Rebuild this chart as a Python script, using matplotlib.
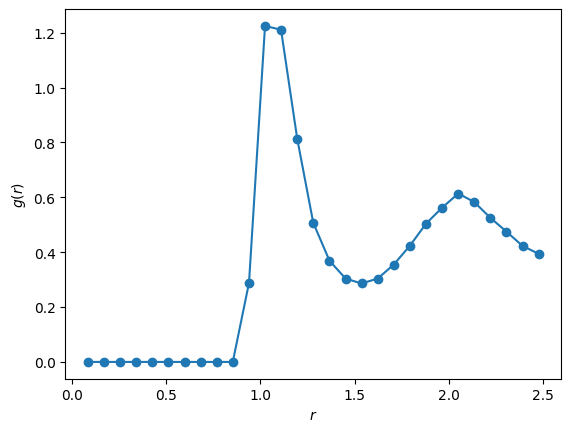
import matplotlib
matplotlib.use("Agg")
from matplotlib import pyplot as plt

# radial distribution function
r = [0.085, 0.171, 0.256, 0.342, 0.427, 0.512, 0.598, 0.683, 0.769, 0.854,
     0.940, 1.025, 1.110, 1.196, 1.281, 1.367, 1.452, 1.537, 1.623, 1.708,
     1.794, 1.879, 1.964, 2.050, 2.135, 2.221, 2.306, 2.391, 2.477]
g = [0.0, 0.0, 0.0, 0.0, 0.0, 0.0, 0.0, 0.0, 0.0, 0.0,
     0.288, 1.225, 1.211, 0.813, 0.507, 0.369, 0.304, 0.286, 0.304, 0.355,
     0.424, 0.504, 0.562, 0.614, 0.583, 0.525, 0.475, 0.423, 0.394]

fig, ax = plt.subplots(figsize=(6.4, 4.8), dpi=100)
ax.plot(r, g, "-o")
ax.set_xlabel("$r$")
ax.set_ylabel("$g(r)$")
fig.savefig("out.png", bbox_inches="tight")
